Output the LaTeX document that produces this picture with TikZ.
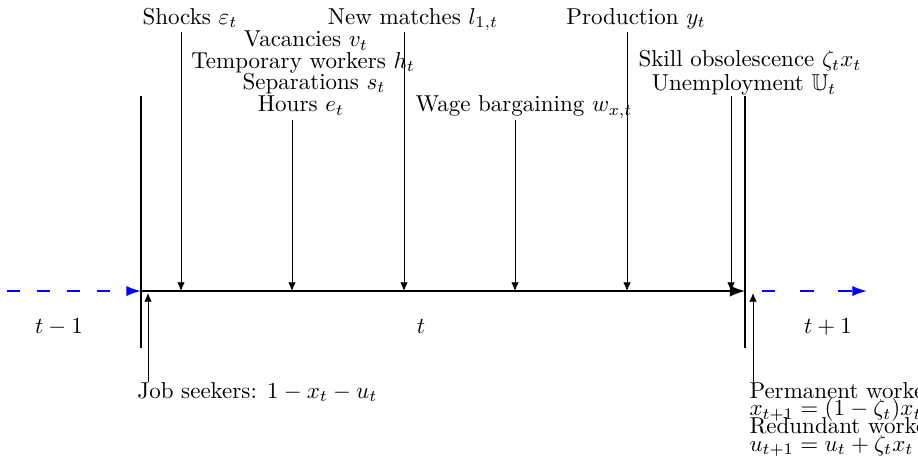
\documentclass[tikz,border=0pt]{standalone}
\usepackage{amsmath,amssymb}
\usetikzlibrary{arrows.meta, positioning}

\begin{document}
\begin{tikzpicture}[
    lbl/.style={anchor=base, inner sep=0pt},
    lblleft/.style={anchor=base west, inner sep=0pt},
    bar/.style={line width=1.2pt},
    timeline/.style={thick, -{Latex}},
    period/.style={thick, blue, -{Latex[length=6.4pt, width=4.5pt]}},
    tick/.style={-{Latex[length=3.8pt, width=3.3pt]}}
]
\useasboundingbox (-2.155,-2.674) rectangle (11.873,4.447);

% period t
\coordinate (t0) at (0,0);
\coordinate (t1) at (9.23,0);
\draw[bar] (0,2.98) -- (0,-0.871);
\draw[bar] (9.23,2.98) -- (9.23,-0.871);
\draw[timeline] (t0) -- (t1);

% neighbouring periods
\coordinate (prev) at (-2.043,0);
\coordinate (next0) at (9.49,0);
\coordinate (next) at (11.094,0);
\draw[period, dash pattern=on 5.6pt off 7.4pt] (prev) -- (t0);
\draw[period, dash pattern=on 5.8pt off 10.8pt] (next0) -- (next);

\node[lbl] (prevlbl) at (-1.253,-0.642) {$t-1$};
\node[lbl] (curlbl) at (4.279,-0.642) {$t$};
\node[lbl] (nextlbl) at (10.498,-0.642) {$t+1$};

% events within the period
\node[lbl] (shocks) at (0.749,4.075) {Shocks $\varepsilon_t$};
\node[lbl] (matches) at (4.156,4.075) {New matches $l_{1,t}$};
\node[lbl] (prod) at (7.564,4.075) {Production $y_t$};
\node[lbl] (vac) at (2.521,3.733) {Vacancies $v_t$};
\node[lbl] (temp) at (2.476,3.403) {Temporary workers $h_t$};
\node[lbl] (sep) at (2.644,3.082) {Separations $s_t$};
\node[lbl] (hours) at (2.445,2.740) {Hours $e_t$};
\node[lbl] (wage) at (5.853,2.740) {Wage bargaining $w_{x,t}$};
\node[lbl] (skill) at (9.306,3.428) {Skill obsolescence $\zeta_t x_t$};
\node[lbl] (unemp) at (9.215,3.061) {Unemployment $\mathbb{U}_t$};

\coordinate (ev1top) at (0.611,3.958);
\coordinate (ev1) at (0.611,0);
\coordinate (ev2top) at (2.307,2.613);
\coordinate (ev2) at (2.307,0);
\coordinate (ev3top) at (4.019,3.958);
\coordinate (ev3) at (4.019,0);
\coordinate (ev4top) at (5.715,2.613);
\coordinate (ev4) at (5.715,0);
\coordinate (ev5top) at (7.427,3.958);
\coordinate (ev5) at (7.427,0);
\coordinate (ev6top) at (9.016,2.980);
\coordinate (ev6) at (9.016,0);

\draw[tick] (ev1top) -- (ev1);
\draw[tick] (ev2top) -- (ev2);
\draw[tick] (ev3top) -- (ev3);
\draw[tick] (ev4top) -- (ev4);
\draw[tick] (ev5top) -- (ev5);
\draw[tick] (ev6top) -- (ev6);

% stocks at the boundaries
\node[lblleft] (seekers) at (-0.061,-1.635) {Job seekers: $1-x_t-u_t$};
\node[lblleft] (perm) at (9.291,-1.635) {Permanent workers:};
\node[lblleft] (permeq) at (9.291,-1.903) {$x_{t+1}=(1-\zeta_t)x_t$};
\node[lblleft] (red) at (9.291,-2.174) {Redundant workers:};
\node[lblleft] (redeq) at (9.291,-2.445) {$u_{t+1}=u_t+\zeta_t x_t$};

\coordinate (in0low) at (0.107,-1.391);
\coordinate (in0) at (0.107,-0.03);
\coordinate (in1low) at (9.352,-1.391);
\coordinate (in1) at (9.352,-0.03);
\draw[tick] (in0low) -- (in0);
\draw[tick] (in1low) -- (in1);

\end{tikzpicture}
\end{document}
